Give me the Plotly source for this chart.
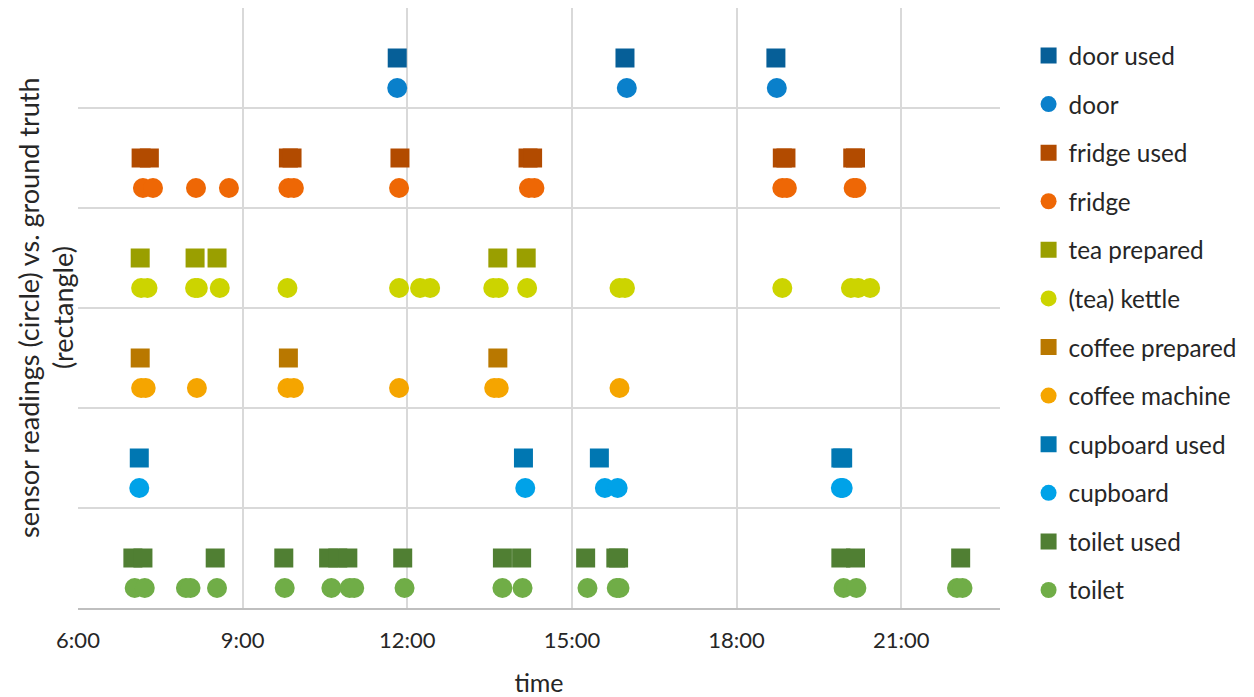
import plotly.graph_objects as go

# horas de cada evento (HH:MM)
door_used = ["11:49", "15:58", "18:43"]
door = ["11:49", "16:00", "18:44"]
fridge_used = ["07:09", "07:18", "09:50", "09:54", "11:52", "14:12", "14:17",
               "18:50", "18:54", "20:07", "20:10"]
fridge = ["07:11", "07:22", "08:09", "08:45", "09:50", "09:56", "11:51",
          "14:13", "14:19", "18:50", "18:55", "20:08", "20:11"]
tea_prepared = ["07:08", "08:08", "08:32", "13:39", "14:10"]
kettle = ["07:09", "07:16", "08:08", "08:11", "08:35", "09:49", "11:51",
          "12:14", "12:25", "13:34", "13:40", "14:11", "15:52", "15:58",
          "18:50", "20:05", "20:13", "20:26"]
coffee_prepared = ["07:08", "09:50", "13:39"]
coffee_machine = ["07:09", "07:14", "08:10", "09:49", "09:56", "11:51",
                  "13:35", "13:40", "15:52"]
cupboard_used = ["07:07", "14:07", "15:30", "19:54", "19:56"]
cupboard = ["07:07", "14:09", "15:36", "15:50", "19:54", "19:56"]
toilet_used = ["07:00", "07:11", "08:30", "09:45", "10:34", "10:44", "10:55",
               "11:55", "13:44", "14:05", "15:15", "15:48", "15:51", "19:54",
               "20:10", "22:05"]
toilet = ["07:02", "07:13", "07:58", "08:03", "08:32", "09:46", "10:37",
          "10:57", "11:02", "11:57", "13:44", "14:06", "15:17", "15:49",
          "15:52", "19:57", "20:11", "22:01", "22:07"]

# fila de cada sensor en el eje y (0 = abajo)
row_toilet, row_cupboard, row_coffee, row_tea, row_fridge, row_door = 0, 1, 2, 3, 4, 5
off_reading = 0.2   # círculo = lectura del sensor
off_truth = 0.5     # cuadrado = ground truth

series = [
    ("door used", door_used, row_door + off_truth, "square", "#065F98"),
    ("door", door, row_door + off_reading, "circle", "#0A80CB"),
    ("fridge used", fridge_used, row_fridge + off_truth, "square", "#B24B00"),
    ("fridge", fridge, row_fridge + off_reading, "circle", "#EE6705"),
    ("tea prepared", tea_prepared, row_tea + off_truth, "square", "#9A9F00"),
    ("(tea) kettle", kettle, row_tea + off_reading, "circle", "#CCD400"),
    ("coffee prepared", coffee_prepared, row_coffee + off_truth, "square", "#B97800"),
    ("coffee machine", coffee_machine, row_coffee + off_reading, "circle", "#F5A500"),
    ("cupboard used", cupboard_used, row_cupboard + off_truth, "square", "#0077B2"),
    ("cupboard", cupboard, row_cupboard + off_reading, "circle", "#00A2E8"),
    ("toilet used", toilet_used, row_toilet + off_truth, "square", "#507F33"),
    ("toilet", toilet, row_toilet + off_reading, "circle", "#70AD47"),
]

DAY = "2000-01-01 "

fig = go.Figure()
for nombre, horas, y, simbolo, color in series:
    fig.add_trace(go.Scatter(
        x=[DAY + h for h in horas],
        y=[y] * len(horas),
        mode="markers",
        name=nombre,
        legendgroup=nombre,
        marker=dict(symbol=simbolo, size=19 if simbolo == "square" else 20,
                    color=color, line=dict(width=0)),
    ))

fuente = "Lato, 'Open Sans', sans-serif"

# título del eje y en dos líneas (como anotaciones para controlar el interlineado)
fig.add_annotation(text="sensor readings (circle) vs. ground truth",
                   xref="paper", yref="paper", x=0, y=0.5, xshift=-50,
                   xanchor="center", yanchor="middle",
                   textangle=-90, showarrow=False, font=dict(size=27))
fig.add_annotation(text="(rectangle)",
                   xref="paper", yref="paper", x=0, y=0.5, xshift=-16,
                   xanchor="center", yanchor="middle",
                   textangle=-90, showarrow=False, font=dict(size=27))

# la página tiene 8 px de margen en el body: se compensa en los márgenes
fig.update_layout(
    width=1254, height=697,
    margin=dict(l=70, r=262, t=0, b=97, autoexpand=False),
    plot_bgcolor="white", paper_bgcolor="white",
    font=dict(family=fuente, size=22, color="#262626"),
    legend=dict(x=1.031, y=0.958, xanchor="left", yanchor="top",
                font=dict(size=24.3, color="#262626"),
                tracegroupgap=14, itemwidth=30),
    xaxis=dict(
        type="date", automargin=False,
        range=[DAY + "06:00", DAY + "22:48"],
        tick0=DAY + "06:00", dtick=3 * 3600 * 1000,
        tickformat="%-H:%M",
        showgrid=True, gridcolor="#D9D9D9", gridwidth=1.5,
        showline=True, linecolor="#BFBFBF", linewidth=2,
        ticks="", ticklabelstandoff=12,
        title=dict(text="time", font=dict(size=25), standoff=22),
    ),
    yaxis=dict(
        automargin=False,
        range=[0, 6], dtick=1,
        showticklabels=False,
        showgrid=True, gridcolor="#D9D9D9", gridwidth=1.5,
        zeroline=False,
    ),
)

fig.write_html("out.html")
